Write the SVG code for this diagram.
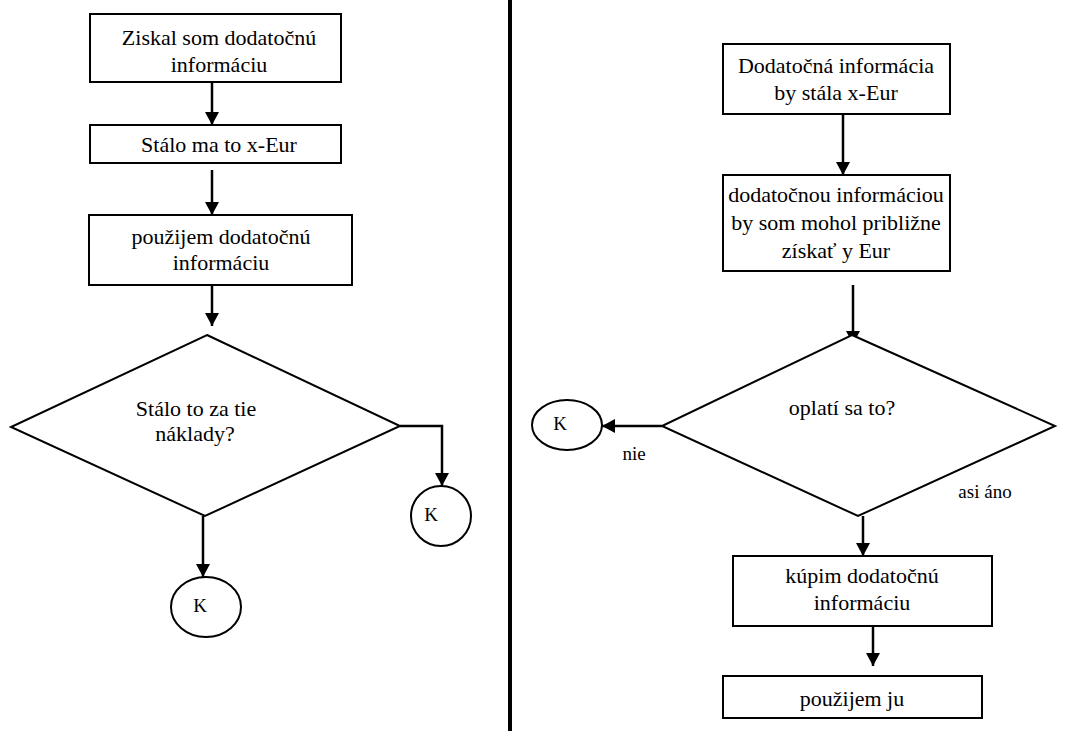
<svg xmlns="http://www.w3.org/2000/svg" width="1090" height="731" viewBox="0 0 1090 731">
<style>
.box{fill:#fff;stroke:#000;stroke-width:2}
.t{font-family:'Liberation Serif','Times New Roman',serif;font-size:22px;fill:#000;text-anchor:middle}
.s{font-family:'Liberation Serif','Times New Roman',serif;font-size:19px;fill:#000;text-anchor:middle}
.c{fill:none;stroke:#000;stroke-width:2.5}
</style>
<defs>
<marker id="ah" viewBox="0 0 13 14" refX="13" refY="7" markerWidth="13" markerHeight="14" markerUnits="userSpaceOnUse" orient="auto">
<path d="M0,0 L13,7 L0,14 Z" fill="#000"/>
</marker>
</defs>
<rect x="508" y="0" width="4" height="731" fill="#000"/>
<g id="connectors">
<path class="c" d="M212,82 V125" marker-end="url(#ah)"/>
<path class="c" d="M212,170 V215" marker-end="url(#ah)"/>
<path class="c" d="M212,285 V326" marker-end="url(#ah)"/>
<path class="c" d="M400,426 H442 V486" marker-end="url(#ah)"/>
<path class="c" d="M203,516 V577" marker-end="url(#ah)"/>
<path class="c" d="M843,114 V175" marker-end="url(#ah)"/>
<path class="c" d="M853,285 V344" marker-end="url(#ah)"/>
<path class="c" d="M662,426 H602" marker-end="url(#ah)"/>
<path class="c" d="M863,516 V556" marker-end="url(#ah)"/>
<path class="c" d="M873,626 V666" marker-end="url(#ah)"/>
</g>
<g id="n1"><rect class="box" x="90" y="14" width="251" height="68"/><text class="t" x="219" y="45">Ziskal som dodatočnú</text><text class="t" x="219" y="72">informáciu</text></g>
<g id="n2"><rect class="box" x="90" y="125" width="251" height="38"/><text class="t" x="219" y="152">Stálo ma to x-Eur</text></g>
<g id="n3"><rect class="box" x="89" y="215" width="263" height="70"/><text class="t" x="221" y="244">použijem dodatočnú</text><text class="t" x="221" y="270">informáciu</text></g>
<g id="n4"><polygon class="box" points="207,335 400,426 205,516 11,427"/><text class="t" x="196" y="416">Stálo to za tie</text><text class="t" x="195" y="441">náklady?</text></g>
<g id="n5"><ellipse class="box" cx="441" cy="516" rx="30" ry="30"/><text class="s" x="431" y="521">K</text></g>
<g id="n6"><ellipse class="box" cx="206" cy="607" rx="35" ry="30"/><text class="s" x="200" y="612">K</text></g>
<g id="n7"><rect class="box" x="723" y="44" width="227" height="70"/><text class="t" x="836" y="73">Dodatočná informácia</text><text class="t" x="836" y="100">by stála x-Eur</text></g>
<g id="n8"><rect class="box" x="723" y="175" width="227" height="96"/><text class="t" x="836" y="202">dodatočnou informáciou</text><text class="t" x="836" y="230">by som mohol približne</text><text class="t" x="836" y="258">získať y Eur</text></g>
<g id="n9"><polygon class="box" points="852,335 1055,426 858,516 662,426"/><text class="t" x="842" y="415">oplatí sa to?</text></g>
<g id="n10"><ellipse class="box" cx="567" cy="425" rx="35" ry="25"/><text class="s" x="560" y="430">K</text></g>
<text class="s" x="634" y="460">nie</text>
<text class="s" x="985" y="498">asi áno</text>
<g id="n11"><rect class="box" x="733" y="556" width="259" height="70"/><text class="t" x="862" y="583">kúpim dodatočnú</text><text class="t" x="862" y="610">informáciu</text></g>
<g id="n12"><rect class="box" x="723" y="676" width="259" height="42"/><text class="t" x="852" y="706">použijem ju</text></g>
</svg>
